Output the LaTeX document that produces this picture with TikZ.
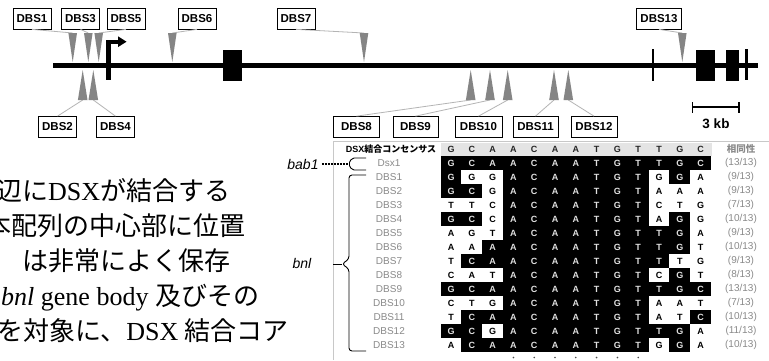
\documentclass[tikz,border=0pt]{standalone}
\usepackage{fontspec}
\setmainfont{Liberation Serif}
\newfontfamily\jp{Noto Sans CJK JP}
\newfontfamily\arial{Liberation Sans}
\definecolor{trigray}{HTML}{858585}
\definecolor{leadgray}{HTML}{B4B4B4}
\definecolor{labgray}{HTML}{8A8A8A}
\definecolor{rulegray}{HTML}{C8C8C8}
\definecolor{headgray}{HTML}{E4E4E4}

\tikzset{
  genebar/.style={line width=4.6pt},
  dbsbox/.style={draw=black, line width=0.7pt, fill=white, inner sep=0pt,
    minimum height=21pt, minimum width=38pt,
    font=\arial\bfseries\fontsize{11.5}{13}\selectfont},
  tri/.style={fill=trigray},
  lead/.style={draw=leadgray, line width=0.8pt},
  cellfont/.style={inner sep=0pt, font=\arial\bfseries\fontsize{9}{10}\selectfont},
  onblk/.style={cellfont, text=black!12},
  onwht/.style={cellfont, text=black},
  rowlab/.style={inner sep=0pt, text=labgray, font=\arial\fontsize{10}{11}\selectfont},
  scorelab/.style={inner sep=0pt, text=labgray, font=\arial\fontsize{10}{11}\selectfont},
  jtext/.style={anchor=base west, inner sep=0pt, font=\fontsize{26}{30}\selectfont},
  genelab/.style={inner sep=0pt, font=\arial\itshape\fontsize{14}{16}\selectfont},
  bracket/.style={line width=0.9pt, rounded corners=3pt},
}

% one alignment row: y, label, bases, match mask, score
\newcommand\seqrow[5]{%
  \node[rowlab] (lab-#2) at (389,#1) {#2};
  \foreach \l [count=\i] in {#3} {
    \pgfmathtruncatemacro\m{{#4}[\i-1]}
    \pgfmathsetmacro\cx{451+20.8*(\i-1)}
    \ifnum\m=1
      \fill[black] (\cx-10.45,#1-7.05) rectangle (\cx+10.45,#1+7.05);
      \node[onblk] (cell-#2-\i) at (\cx,#1) {\l};
    \else
      \node[onwht] (cell-#2-\i) at (\cx,#1) {\l};
    \fi
  }
  \node[scorelab] (score-#2) at (741,#1) {#5};
}

\begin{document}
\begin{tikzpicture}[x=1pt,y=-1pt]
\useasboundingbox (0,0) rectangle (769,360);
\clip (0,0) rectangle (769,360);
\fill[white] (0,0) rectangle (769,360);

% ---------------- gene model ----------------
\draw[genebar] (53,65.5) -- (758,65.5);
% transcription start
\fill (105.7,41.7) rectangle (111,80);
\fill (105.7,39.6) rectangle (119,43.8);
\fill (118,36.3) -- (126.5,41.7) -- (118,47.1) -- cycle;
% exons and gene end
\fill (222.7,50) rectangle (242.3,81);
\fill (652,49) rectangle (653.5,81);
\fill (696,50) rectangle (715,81);
\fill (725.7,50) rectangle (739.3,81);
\fill (745,49) rectangle (747.8,80);

% ---------------- DSX binding sites ----------------
% labels above the gene
\node[dbsbox] (b1)  at (32,18.5)  {DBS1};
\node[dbsbox] (b3)  at (80.5,18.5) {DBS3};
\node[dbsbox] (b5)  at (126,18.5) {DBS5};
\node[dbsbox] (b6)  at (197,18.5) {DBS6};
\node[dbsbox] (b7)  at (296,18.5) {DBS7};
\node[dbsbox, minimum width=45pt] (b13) at (659,18.5) {DBS13};
% labels below the gene
\node[dbsbox] (b2)  at (57.5,127)  {DBS2};
\node[dbsbox] (b4)  at (115.5,127) {DBS4};
\node[dbsbox, minimum width=46pt] (b8)  at (356.5,127) {DBS8};
\node[dbsbox, minimum width=45pt] (b9)  at (415.5,127) {DBS9};
\node[dbsbox, minimum width=47pt] (b10) at (478.5,127) {DBS10};
\node[dbsbox, minimum width=45pt] (b11) at (535.5,127) {DBS11};
\node[dbsbox, minimum width=46pt] (b12) at (594,127)   {DBS12};

% site markers above the line
\foreach \n/\x in {1/72.7, 3/88.3, 5/98.7, 6/172.3, 7/364, 13/682.3}{
  \coordinate (t\n) at (\x,33);
  \draw[lead] (b\n.south) -- (t\n);
  \fill[tri] (\x-4.3,33) -- (\x+4.3,33) -- (\x,62) -- cycle;
}
% site markers below the line
\foreach \n/\x in {2/82.7, 4/93.3, 8/470.7, 9/490, 10/507.7, 11/554, 12/568.3}{
  \coordinate (t\n) at (\x,100);
  \draw[lead] (b\n.north) -- (t\n);
  \fill[tri] (\x-4.8,100) -- (\x+4.8,100) -- (\x,70) -- cycle;
}

% scale bar
\coordinate (sbl) at (692.5,107);
\coordinate (sbr) at (739,107);
\draw[line width=2.2pt] (sbl) -- (sbr);
\draw[line width=1.8pt] (692.5,102) -- (692.5,113);
\draw[line width=1.8pt] (739,102) -- (739,113);
\node[inner sep=0pt, font=\arial\bfseries\fontsize{13.5}{15}\selectfont] (kb) at (716,124) {3 kb};

% ---------------- Japanese text ----------------
\node[jtext] (l1) at (-4,200)  {\jp 辺に\rmfamily DSX\jp が結合する};
\node[jtext] (l2) at (-15,235) {\jp 本配列の中心部に位置};
\node[jtext] (l3) at (22,270)  {\jp は非常によく保存};
\node[jtext] (l4) at (1,305)   {\rmfamily\itshape bnl\upshape{} gene body \jp 及びその};
\node[jtext] (l5) at (-3,340)  {\jp を対象に、\rmfamily DSX \jp 結合コア};

% ---------------- alignment table ----------------
\draw[rulegray, line width=0.8pt] (333,141.8) -- (769,141.8);
\draw[rulegray, line width=0.8pt] (333,141.8) -- (333,360);
\fill[headgray] (441,142.5) rectangle (712,156);
\node[inner sep=0pt, font=\arial\bfseries\fontsize{9}{10}\selectfont] (headlab) at (391,149)
  {DSX{\jp\bfseries 結合コンセンサス}};
\foreach \l [count=\i] in {G,C,A,A,C,A,A,T,G,T,T,G,C}{
  \node[cellfont, text=black!85] (cons-\i) at (451+20.8*\i-20.8,149) {\l};
}
\node[inner sep=0pt, text=labgray, font=\jp\bfseries\fontsize{9.5}{11}\selectfont] (headscore) at (741,149) {相同性};

\seqrow{163}{Dsx1}{G,C,A,A,C,A,A,T,G,T,T,G,C}{1,1,1,1,1,1,1,1,1,1,1,1,1}{(13/13)}
\seqrow{177}{DBS1}{G,G,G,A,C,A,A,T,G,T,G,G,A}{1,0,0,1,1,1,1,1,1,1,0,1,0}{(9/13)}
\seqrow{191}{DBS2}{G,C,G,A,C,A,A,T,G,T,A,A,A}{1,1,0,1,1,1,1,1,1,1,0,0,0}{(9/13)}
\seqrow{205}{DBS3}{T,T,C,A,C,A,A,T,G,T,C,T,G}{0,0,0,1,1,1,1,1,1,1,0,0,0}{(7/13)}
\seqrow{219}{DBS4}{G,C,C,A,C,A,A,T,G,T,A,G,G}{1,1,0,1,1,1,1,1,1,1,0,1,0}{(10/13)}
\seqrow{233}{DBS5}{A,G,T,A,C,A,A,T,G,T,T,G,A}{0,0,0,1,1,1,1,1,1,1,1,1,0}{(9/13)}
\seqrow{247}{DBS6}{A,A,A,A,C,A,A,T,G,T,T,G,T}{0,0,1,1,1,1,1,1,1,1,1,1,0}{(10/13)}
\seqrow{261}{DBS7}{T,C,A,A,C,A,A,T,G,T,T,T,G}{0,1,1,1,1,1,1,1,1,1,1,0,0}{(9/13)}
\seqrow{275}{DBS8}{C,A,T,A,C,A,A,T,G,T,C,G,T}{0,0,0,1,1,1,1,1,1,1,0,1,0}{(8/13)}
\seqrow{289}{DBS9}{G,C,A,A,C,A,A,T,G,T,T,G,C}{1,1,1,1,1,1,1,1,1,1,1,1,1}{(13/13)}
\seqrow{303}{DBS10}{C,T,G,A,C,A,A,T,G,T,A,A,T}{0,0,0,1,1,1,1,1,1,1,0,0,0}{(7/13)}
\seqrow{317}{DBS11}{T,C,A,A,C,A,A,T,G,T,A,T,C}{0,1,1,1,1,1,1,1,1,1,0,0,1}{(10/13)}
\seqrow{331}{DBS12}{G,C,G,A,C,A,A,T,G,T,T,G,A}{1,1,0,1,1,1,1,1,1,1,1,1,0}{(11/13)}
\seqrow{345}{DBS13}{A,C,A,A,C,A,A,T,G,T,G,G,A}{0,1,1,1,1,1,1,1,1,1,0,1,0}{(10/13)}

% conserved core marks
\foreach \i in {4,...,10}{
  \fill[black!70] (451+20.8*\i-20.8,357.5) circle (0.9pt);
}

% ---------------- gene brackets ----------------
\node[genelab] (bab) at (303,164) {bab1};
\coordinate (babtip) at (348.5,164);
\draw[line width=1.3pt, dash pattern=on 2pt off 1pt] (bab.east) ++(3,0) -- (babtip);
\draw[bracket, rounded corners=2pt] (366,158) -- (352,158) -- (348.5,164) -- (352,170) -- (366,170);

\node[genelab] (bnl) at (302,263) {bnl};
\coordinate (bnltip) at (333,264);
\draw[bracket] (366,175) -- (349,175) -- (349,259) -- (342,264) -- (349,269) -- (349,351) -- (366,351);
\draw[line width=0.9pt] (bnltip) -- (342,264);
\end{tikzpicture}
\end{document}
